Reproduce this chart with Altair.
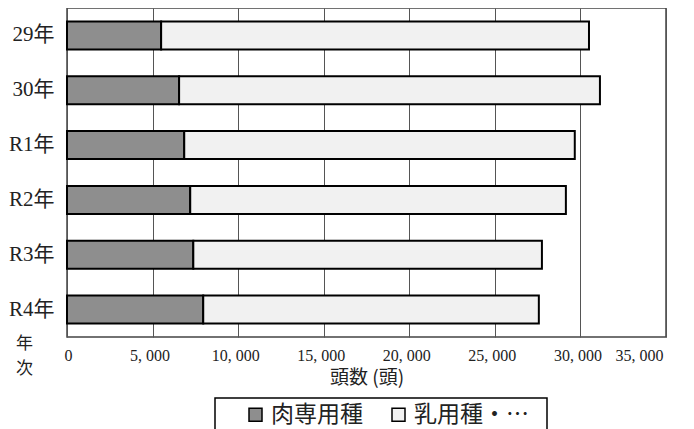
import altair as alt
import pandas as pd

years = ["29年", "30年", "R1年", "R2年", "R3年", "R4年"]
meat = [5500, 6550, 6850, 7200, 7380, 7960]
dairy = [25000, 24590, 22820, 21950, 20370, 19610]
kinds = ["肉専用種", "乳用種・…"]
colors = ["#8e8e8e", "#f1f1f1"]
x_ticks = [0, 5000, 10000, 15000, 20000, 25000, 30000, 35000]

rows = []
for y, m, d in zip(years, meat, dairy):
    rows.append({"year": y, "kind": kinds[0], "value": m, "ord": 0})
    rows.append({"year": y, "kind": kinds[1], "value": d, "ord": 1})
df = pd.DataFrame(rows)

SERIF = "'Liberation Serif', 'Noto Sans CJK JP'"
JP = "'Noto Sans CJK JP'"

bars = alt.Chart(df).mark_bar(stroke="black", strokeWidth=2).encode(
    x=alt.X("value:Q", stack="zero",
            scale=alt.Scale(domain=[0, 35000], nice=False),
            axis=alt.Axis(values=x_ticks, grid=True, gridColor="#555", gridWidth=1,
                          ticks=False, domain=False, labelPadding=10, labelOffset=-3,
                          labelFont=SERIF, labelFontSize=16, labelColor="#222",
                          labelExpr="replace(format(datum.value, ','), ',', ', ')",
                          title="頭数 (頭)", titleFont=JP, titleFontSize=19,
                          titleFontWeight="normal", titleColor="#222",
                          titleBaseline="top", titleY=31)),
    y=alt.Y("year:N", sort=years,
            scale=alt.Scale(paddingInner=0.49, paddingOuter=0.245),
            axis=alt.Axis(ticks=False, domain=False, grid=False, labelPadding=13,
                          labelFont=SERIF, labelFontSize=21, labelColor="#222",
                          title=["年", "次"], titleFont=JP, titleFontSize=17,
                          titleFontWeight="normal", titleColor="#222",
                          titleAngle=0, titleAlign="center", titleBaseline="top",
                          titleX=-43, titleY=327, titleLineHeight=25)),
    color=alt.Color("kind:N", sort=kinds,
                    scale=alt.Scale(domain=kinds, range=colors),
                    legend=alt.Legend(orient="none", legendX=177, legendY=395,
                                      direction="horizontal", title=None,
                                      symbolType="square", symbolSize=169,
                                      symbolStrokeColor="black", symbolStrokeWidth=1.5,
                                      labelFont=JP, labelFontSize=23, labelColor="#222",
                                      labelOffset=4, columnPadding=24, padding=0)),
    order=alt.Order("ord:Q"),
)

box = alt.Chart(pd.DataFrame({"a": [0]})).mark_rect(
    fill="transparent", stroke="black", strokeWidth=1.5
).encode(x=alt.value(148), x2=alt.value(480), y=alt.value(390), y2=alt.value(445))

chart = alt.layer(box, bars).properties(
    width=599, height=329,
    autosize=alt.AutoSizeParams(type="none"),
    padding={"left": 59, "top": 0, "right": 20, "bottom": 92},
    background="white",
).configure_view(stroke="#444", strokeWidth=1.5)

chart.save("out.html", embed_options={"renderer": "svg", "actions": False})
